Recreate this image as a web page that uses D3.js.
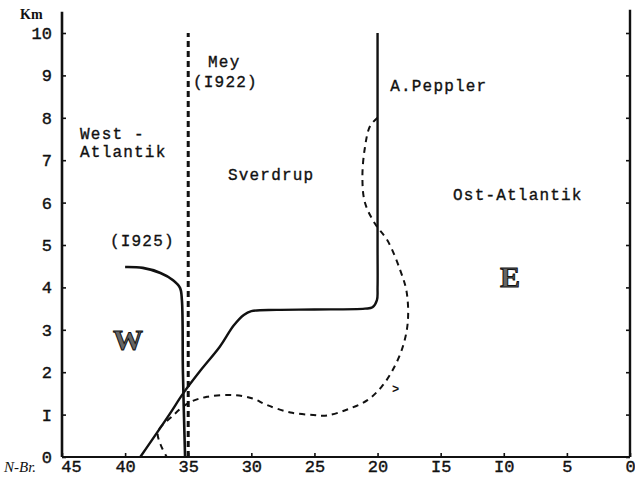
<!DOCTYPE html>
<html lang="de">
<head>
<meta charset="UTF-8">
<title>West- und Ost-Atlantik</title>
<script src="https://d3js.org/d3.v7.min.js"></script>
<style>
  body { margin: 0; background: #fff; }
  text { font-family: "Liberation Mono", "DejaVu Sans Mono", monospace; fill: #111; }
  .axis .domain { display: none; }
  .axis line { stroke: #111; stroke-width: 1.6; }
  .axis text { font-size: 17px; stroke: #111; stroke-width: 0.4; }
  .lbl { font-size: 16px; letter-spacing: 1.2px; stroke: #111; stroke-width: 0.35; }
</style>
</head>
<body>
<svg width="635" height="478"></svg>
<script>
// ticks (latitude, km)
const xTicks = [45, 40, 35, 30, 25, 20, 15, 10, 5, 0];
const xTickLabels = ["45", "40", "35", "30", "25", "20", "I5", "I0", "5", "0"];
const yTicks = [0, 1, 2, 3, 4, 5, 6, 7, 8, 9, 10];
const yTickLabels = ["0", "I", "2", "3", "4", "5", "6", "7", "8", "9", "10"];

// boundary lines [N-Br., km]
const mey1922 = [[35, 0], [35, 10]];
const sverdrup1925 = [[40, 4.48], [38.6, 4.46], [37.2, 4.34], [36.2, 4.17], [35.65, 3.99],
  [35.5, 3.7], [35.42, 2.0], [35.25, 0]];
const peppler = [[38.8, 0], [36.5, 1.0], [35.4, 1.5], [34, 2.05], [32.5, 2.6], [31.4, 3.1],
  [30.6, 3.35], [30, 3.44], [28, 3.47], [25, 3.48], [21, 3.5], [20.4, 3.53], [20.05, 3.7],
  [20, 4.0], [20, 5], [20, 10]];
const dashedCurve = [[20, 8.0], [20.6, 7.8], [21.0, 7.3], [21.2, 6.6], [21.0, 6.0], [20.2, 5.5],
  [19.2, 5.1], [18.2, 4.4], [17.7, 3.9], [17.6, 3.2], [18.0, 2.6], [18.8, 2.05], [19.7, 1.65],
  [20.8, 1.34], [22.4, 1.12], [24, 0.98], [25.1, 0.99], [26.9, 1.05], [28.8, 1.23],
  [29.9, 1.38], [31.5, 1.46], [33.5, 1.42], [35, 1.27], [36.3, 0.95], [37.4, 0.6],
  [37.2, 0.3], [36.7, 0]];

// annotations [text, N-Br., km]
const labels = [
  ["Mey", 33.43, 9.2], ["(I922)", 34.62, 8.73], ["A.Peppler", 19.0, 8.63],
  ["West -", 43.57, 7.5], ["Atlantik", 43.57, 7.08], ["Sverdrup", 31.85, 6.53],
  ["Ost-Atlantik", 14.02, 6.06], ["(I925)", 41.2, 4.98]
];
const bigLetters = [["W", 40.96, 2.52], ["E", 10.3, 4.0]];

const svg = d3.select("svg");
const x = d3.scaleLinear().domain([45, 0]).range([62, 630]);
const y = d3.scaleLinear().domain([0, 10]).range([457, 33]);

// axes
svg.append("g").attr("class", "axis")
  .attr("transform", `translate(${x(45)},0)`)
  .call(d3.axisLeft(y).tickValues(yTicks).tickSizeInner(-4).tickSizeOuter(0).tickPadding(10)
    .tickFormat((d, i) => yTickLabels[i]));

svg.append("g").attr("class", "axis")
  .attr("transform", `translate(${x(0)},0)`)
  .call(d3.axisRight(y).tickValues(yTicks).tickSizeInner(-4).tickSizeOuter(0).tickFormat(""));

const xAxis = svg.append("g").attr("class", "axis")
  .attr("transform", `translate(0,${y(0)})`)
  .call(d3.axisBottom(x).tickValues(xTicks).tickSizeInner(-4).tickSizeOuter(0).tickPadding(3)
    .tickFormat((d, i) => xTickLabels[i]));
xAxis.selectAll(".tick text").filter(d => d === 45).attr("dx", 9);

// axis frame lines
svg.append("line").attr("x1", x(45)).attr("x2", x(45)).attr("y1", y(0)).attr("y2", y(10.5))
  .attr("stroke", "#111").attr("stroke-width", 2.6);
svg.append("line").attr("x1", x(0)).attr("x2", x(0)).attr("y1", y(0)).attr("y2", y(10.55))
  .attr("stroke", "#111").attr("stroke-width", 2.4);
svg.append("line").attr("x1", x(45)).attr("x2", x(0)).attr("y1", y(0)).attr("y2", y(0))
  .attr("stroke", "#111").attr("stroke-width", 2);

svg.append("text").attr("x", x(45) - 42).attr("y", y(10.5) + 7)
  .attr("font-size", 14).attr("font-weight", "bold")
  .style("font-family", "'Liberation Serif', serif").text("Km");
svg.append("text").attr("x", 4).attr("y", y(0) + 15)
  .attr("font-size", 15).attr("font-style", "italic")
  .style("font-family", "'Liberation Serif', serif").text("N-Br.");

// lines
const line = d3.line().x(d => x(d[0])).y(d => y(d[1]));
const smooth = d3.line().x(d => x(d[0])).y(d => y(d[1])).curve(d3.curveCatmullRom.alpha(0.5));

svg.append("path").datum(mey1922).attr("d", line)
  .attr("fill", "none").attr("stroke", "#111").attr("stroke-width", 3)
  .attr("stroke-dasharray", "6,4");

svg.append("path").datum(sverdrup1925).attr("d", smooth)
  .attr("fill", "none").attr("stroke", "#111").attr("stroke-width", 2.6);

svg.append("path").datum(peppler).attr("d", smooth)
  .attr("fill", "none").attr("stroke", "#111").attr("stroke-width", 2.4);

svg.append("path").datum(dashedCurve).attr("d", smooth)
  .attr("fill", "none").attr("stroke", "#111").attr("stroke-width", 2)
  .attr("stroke-dasharray", "6,5");

svg.append("text").attr("x", x(18.85)).attr("y", y(1.52))
  .attr("font-size", 12).attr("font-weight", "bold").text(">");

// annotations
svg.selectAll(".lbl").data(labels).join("text")
  .attr("class", "lbl")
  .attr("x", d => x(d[1])).attr("y", d => y(d[2]))
  .text(d => d[0]);

svg.selectAll(".big").data(bigLetters).join("text")
  .attr("class", "big")
  .attr("x", d => x(d[1])).attr("y", d => y(d[2]))
  .attr("font-size", 30).attr("font-weight", "bold")
  .style("font-family", "'Liberation Serif', serif")
  .style("fill", "#666").attr("stroke", "#111").attr("stroke-width", 1)
  .text(d => d[0]);
</script>
</body>
</html>
